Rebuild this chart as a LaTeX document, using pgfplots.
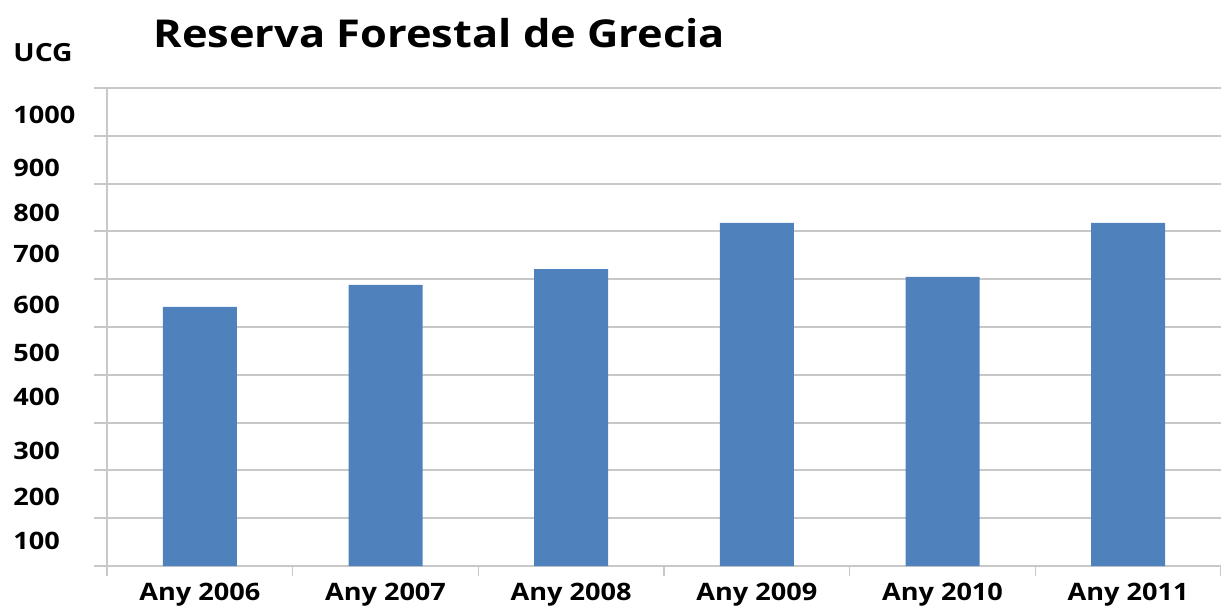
\documentclass[border=0pt]{standalone}
\usepackage{pgfplots}
\pgfplotsset{compat=1.18}
\usepackage{fontspec}
\setmainfont{Open Sans}[FakeStretch=1.13]
\definecolor{barblue}{HTML}{4F81BD}
\definecolor{gridgray}{HTML}{C8C8C8}

\begin{document}
\begin{tikzpicture}
\useasboundingbox (0,0) rectangle (610.5pt,303pt);
\node[anchor=base west, inner sep=0pt, font=\fontsize{19.2}{22}\selectfont\bfseries]
  at (76.5pt,279pt) {Reserva Forestal de Grecia};
\node[anchor=base west, inner sep=0pt, font=\fontsize{12.5}{14}\selectfont\bfseries]
  at (6.5pt,272pt) {UCG};
\begin{axis}[
  at={(53.5pt,20pt)}, anchor=south west,
  scale only axis, width=557pt, height=239pt,
  ybar, bar width=37pt,
  xmin=-0.5, xmax=5.5, ymin=0, ymax=1000,
  axis x line=bottom, axis y line=left,
  axis line style={draw=gridgray, line width=1pt, -},
  tick align=outside,
  xtick={0,...,5},
  xticklabels={Any 2006,Any 2007,Any 2008,Any 2009,Any 2010,Any 2011},
  major x tick style={draw=none},
  minor xtick={-0.5,0.5,...,5.5},
  minor x tick style={draw=gridgray, line width=0.8pt},
  minor tick length=5pt,
  major tick length=6.5pt,
  ytick={0,100,...,1000},
  yticklabels={},
  major y tick style={draw=gridgray, line width=1pt},
  ymajorgrids,
  major grid style={draw=gridgray, line width=1pt},
  ticklabel style={font=\fontsize{12}{14}\selectfont\bfseries, text=black},
  xticklabel style={anchor=base, inner sep=0pt, yshift=-10.5pt},
  % the printed numbers stand between the grid lines, as in the original
  extra y ticks={944,832,738,653,546,446,354,241,144,52},
  extra y tick labels={1000,900,800,700,600,500,400,300,200,100},
  extra y tick style={grid=none, major tick length=0pt,
    major y tick style={draw=none},
    yticklabel style={anchor=west, inner sep=0pt, xshift=-47pt}},
]
\addplot[fill=barblue, draw=none] coordinates {
  (0,542) (1,588) (2,621) (3,718) (4,605) (5,718)
};
\end{axis}
\end{tikzpicture}
\end{document}
